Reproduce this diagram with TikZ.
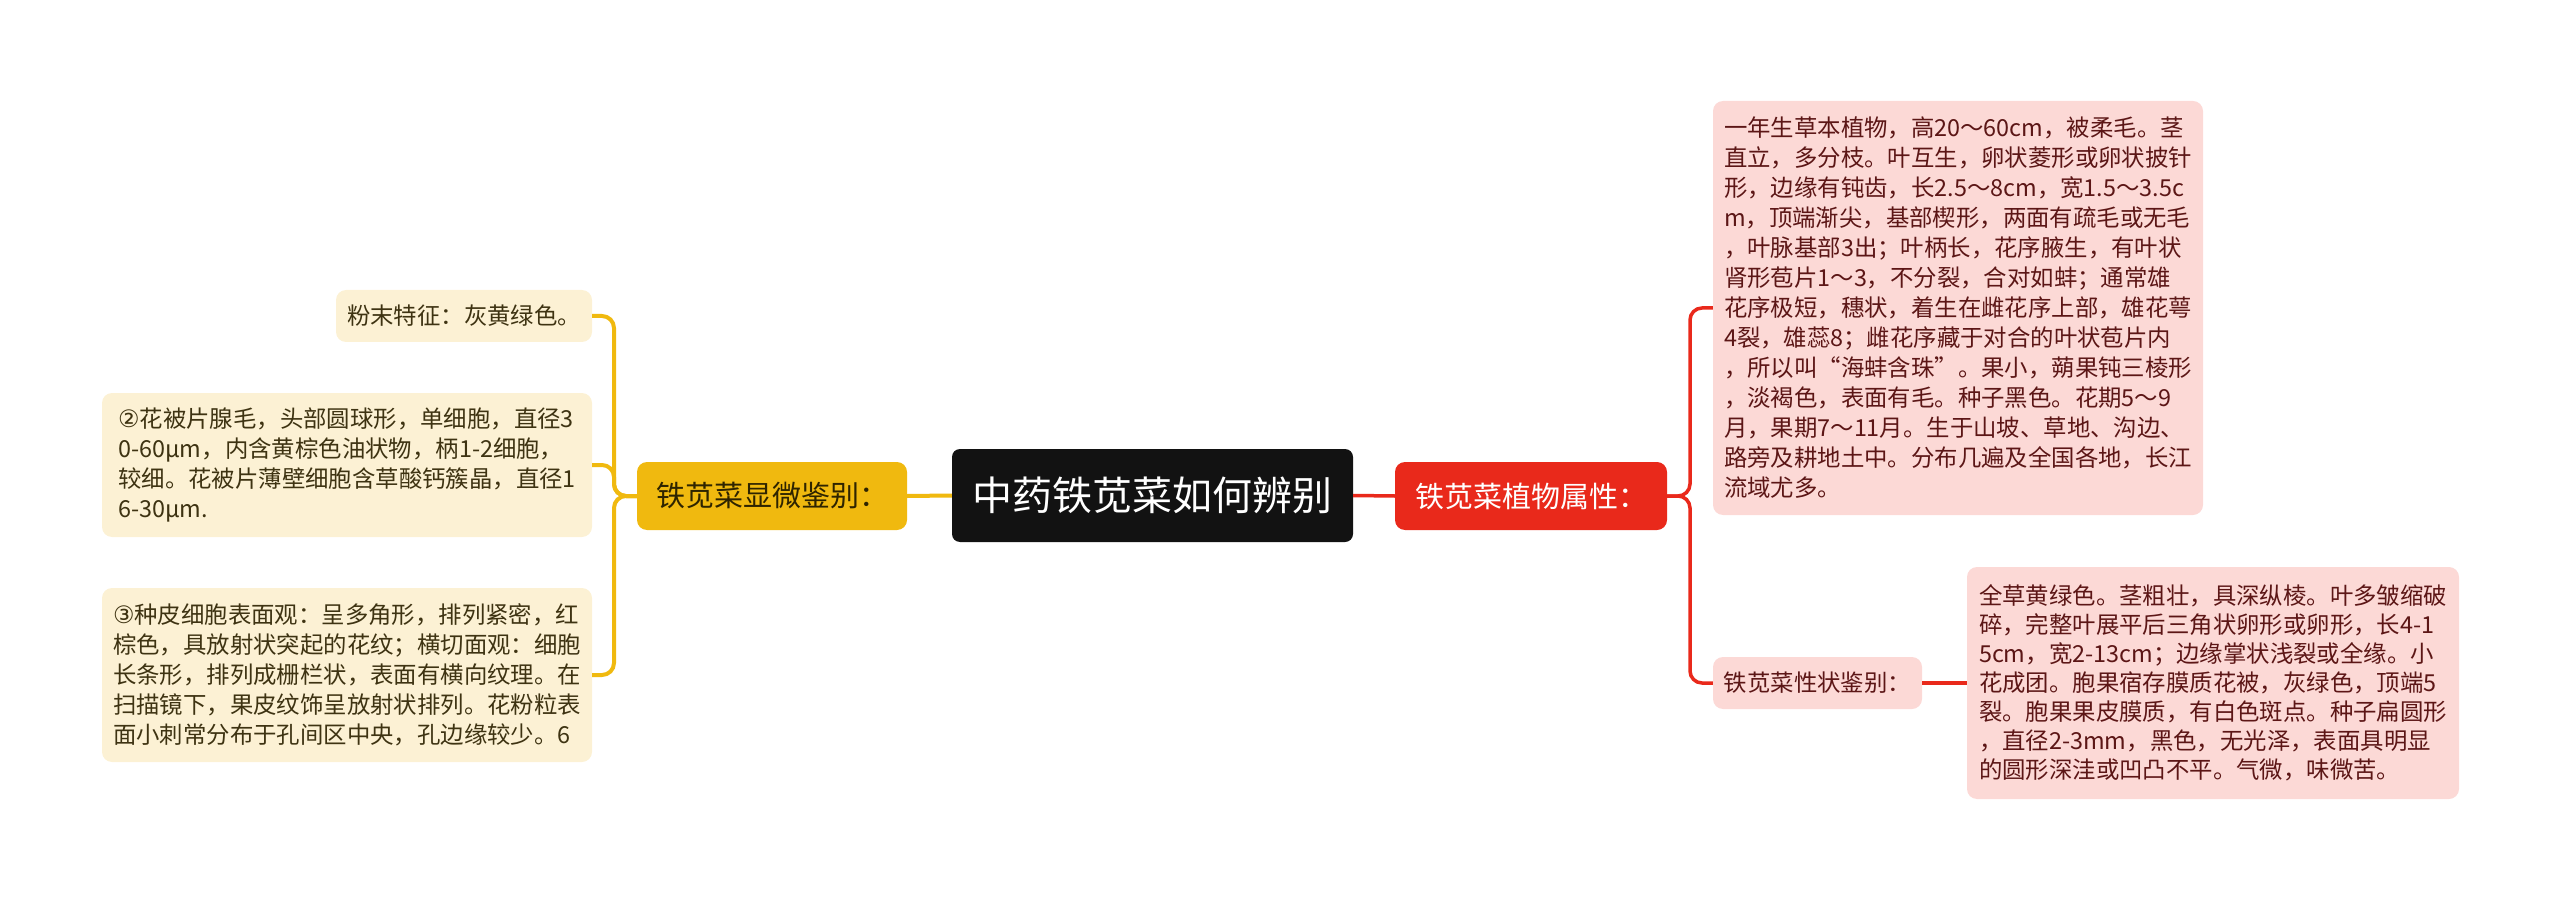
\documentclass[tikz,border=0pt]{standalone}
\usepackage{fontspec}
\setmainfont{Noto Sans CJK SC}
\newfontfamily\circfont{DejaVu Sans}
\definecolor{cblack}{HTML}{121212}
\definecolor{byellow}{HTML}{F0B90F}
\definecolor{bred}{HTML}{E9291B}
\definecolor{pinkfill}{HTML}{FCD9D6}
\definecolor{pinktext}{HTML}{5C1616}
\definecolor{creamfill}{HTML}{FCF1D4}
\definecolor{creamtext}{HTML}{3E3312}
\definecolor{ynodetext}{HTML}{2E2400}
\tikzset{
  rootbox/.style={fill=cblack, text=white, rounded corners=8pt, inner sep=0pt,
    font=\fontsize{40}{48}\selectfont, minimum width=401pt, minimum height=93pt},
  ybranch/.style={fill=byellow, text=ynodetext, rounded corners=10pt, inner sep=0pt,
    font=\fontsize{29}{35}\selectfont, minimum width=270pt, minimum height=68pt},
  rbranch/.style={fill=bred, text=white, rounded corners=10pt, inner sep=0pt,
    font=\fontsize{29}{35}\selectfont, minimum width=272pt, minimum height=68pt},
  yleaf/.style={fill=creamfill, text=creamtext, rounded corners=10pt, inner sep=0pt,
    align=left, font=\fontsize{23.4}{30}\selectfont},
  rleaf/.style={fill=pinkfill, text=pinktext, rounded corners=10pt, inner sep=0pt,
    align=left, font=\fontsize{23.4}{30}\selectfont},
  ylink/.style={draw=byellow, line width=4pt, rounded corners=12pt},
  rlink/.style={draw=bred, line width=3.5pt, rounded corners=12pt},
}
\newcommand{\circnum}[1]{{\circfont\fontsize{24}{30}\selectfont #1}}
\begin{document}
\begin{tikzpicture}[x=1pt, y=-1pt]
\useasboundingbox (0,0) rectangle (2560,901);
% root and main branches
\node[rootbox] (root) at (1152.5,495.5) {中药铁苋菜如何辨别};
\node[ybranch] (micro) at (772,496) {铁苋菜显微鉴别：};
\node[rbranch] (attr) at (1531,496) {铁苋菜植物属性：};
% left leaves
\node[yleaf, minimum width=256pt, minimum height=52pt] (powder) at (464,316) {粉末特征：灰黄绿色。};
\node[yleaf, minimum width=490pt, minimum height=144pt] (hair) at (347,465) {\circnum{②}花被片腺毛，头部圆球形，单细胞，直径3\\0-60μm，内含黄棕色油状物，柄1-2细胞，\\较细。花被片薄壁细胞含草酸钙簇晶，直径1\\6-30μm.};
\node[yleaf, minimum width=490pt, minimum height=174pt] (seed) at (347,675) {\circnum{③}种皮细胞表面观：呈多角形，排列紧密，红\\棕色，具放射状突起的花纹；横切面观：细胞\\长条形，排列成栅栏状，表面有横向纹理。在\\扫描镜下，果皮纹饰呈放射状排列。花粉粒表\\面小刺常分布于孔间区中央，孔边缘较少。6};
% right leaves
\node[rleaf, minimum width=490pt, minimum height=414pt] (plant) at (1958,308) {一年生草本植物，高20～60cm，被柔毛。茎\\直立，多分枝。叶互生，卵状菱形或卵状披针\\形，边缘有钝齿，长2.5～8cm，宽1.5～3.5c\\m，顶端渐尖，基部楔形，两面有疏毛或无毛\\，叶脉基部3出；叶柄长，花序腋生，有叶状\\肾形苞片1～3，不分裂，合对如蚌；通常雄\\花序极短，穗状，着生在雌花序上部，雄花萼\\4裂，雄蕊8；雌花序藏于对合的叶状苞片内\\，所以叫“海蚌含珠”。果小，蒴果钝三棱形\\，淡褐色，表面有毛。种子黑色。花期5～9\\月，果期7～11月。生于山坡、草地、沟边、\\路旁及耕地土中。分布几遍及全国各地，长江\\流域尤多。};
\node[rleaf, align=center, minimum width=209pt, minimum height=52pt] (trait) at (1817.5,683) {铁苋菜性状鉴别：};
\node[rleaf, minimum width=492pt, minimum height=232pt, font=\fontsize{23.4}{29}\selectfont] (traittext) at (2213,683) {全草黄绿色。茎粗壮，具深纵棱。叶多皱缩破\\碎，完整叶展平后三角状卵形或卵形，长4-1\\5cm，宽2-13cm；边缘掌状浅裂或全缘。小\\花成团。胞果宿存膜质花被，灰绿色，顶端5\\裂。胞果果皮膜质，有白色斑点。种子扁圆形\\，直径2-3mm，黑色，无光泽，表面具明显\\的圆形深洼或凹凸不平。气微，味微苦。};
% junction coordinates
\coordinate (lj) at (614,496);
\coordinate (rj) at (1690,496);
% connectors
\draw[ylink] (root.west) -- (micro.east);
\draw[rlink] (root.east) -- (attr.west);
\draw[ylink] (micro.west) -- (lj) -- (lj |- powder.east) -- (powder.east);
\draw[ylink] (micro.west) -- (lj) -- (lj |- hair.east) -- (hair.east);
\draw[ylink] (micro.west) -- (lj) -- (lj |- seed.east) -- (seed.east);
\draw[rlink] (attr.east) -- (rj) -- (rj |- plant.west) -- (plant.west);
\draw[rlink] (attr.east) -- (rj) -- (rj |- trait.west) -- (trait.west);
\draw[rlink] (trait.east) -- (traittext.west);
\end{tikzpicture}
\end{document}
